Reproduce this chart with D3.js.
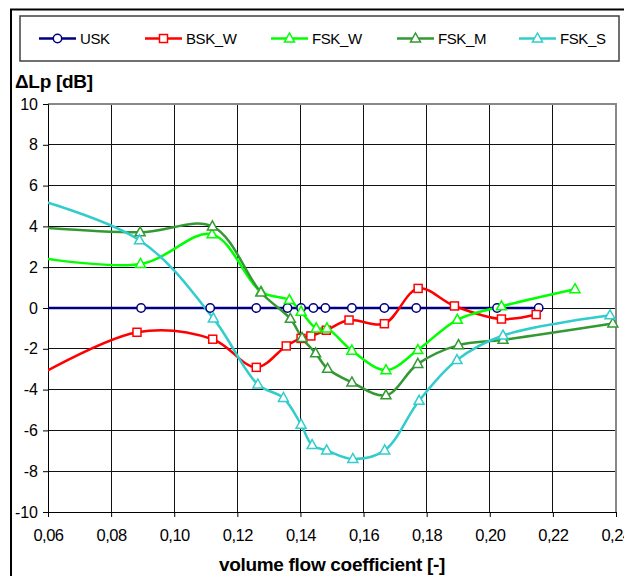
<!DOCTYPE html>
<html lang="en">

<head>
  <meta charset="UTF-8">
  <title>Delta Lp vs volume flow coefficient</title>
  <script src="https://d3js.org/d3.v7.min.js"></script>
  <style>
    body {
      margin: 0;
      background-color: white;
      font-family: "Liberation Sans", Arial, sans-serif;
    }
  </style>
</head>

<body>
  <div id="chart"></div>

  <script>
    // series data (first point of each series lies left of the axis)
    const uskX = [0.045, 0.0895, 0.1114, 0.1260, 0.1359, 0.1402, 0.1441, 0.1479, 0.1563, 0.1666, 0.1767, 0.2023, 0.2155];
    const uskY = [0, 0, 0, 0, 0, 0, 0, 0, 0, 0, 0, 0, 0];

    const bskwX = [0.045, 0.0882, 0.1122, 0.1260, 0.1355, 0.1402, 0.1433, 0.1482, 0.1554, 0.1666, 0.1773, 0.1888, 0.2037, 0.2147];
    const bskwY = [-4.35, -1.19, -1.53, -2.91, -1.86, -1.49, -1.37, -1.09, -0.59, -0.77, 0.96, 0.10, -0.54, -0.32];

    const fskwX = [0.045, 0.0893, 0.1120, 0.1275, 0.1365, 0.1402, 0.1450, 0.1484, 0.1563, 0.1671, 0.1772, 0.1897, 0.2037, 0.2270];
    const fskwY = [2.75, 2.16, 3.61, 0.80, 0.39, -0.18, -1.00, -1.00, -2.09, -3.05, -2.06, -0.58, 0.08, 0.92];

    const fskmX = [0.045, 0.0892, 0.1121, 0.1275, 0.1368, 0.1405, 0.1448, 0.1486, 0.1563, 0.1671, 0.1772, 0.1901, 0.2042, 0.2390];
    const fskmY = [4.1, 3.71, 4.00, 0.76, -0.53, -1.47, -2.22, -2.98, -3.65, -4.28, -2.74, -1.82, -1.56, -0.76];

    const fsksX = [0.045, 0.0890, 0.1124, 0.1265, 0.1346, 0.1402, 0.1437, 0.1483, 0.1566, 0.1667, 0.1776, 0.1896, 0.2042, 0.2381];
    const fsksY = [5.85, 3.32, -0.51, -3.75, -4.41, -5.72, -6.72, -6.98, -7.40, -6.98, -4.55, -2.55, -1.35, -0.36];

    const seriesNames = ["USK", "BSK_W", "FSK_W", "FSK_M", "FSK_S"];
    const xTicks = [0.06, 0.08, 0.10, 0.12, 0.14, 0.16, 0.18, 0.20, 0.22, 0.24];
    const yTicks = [-10, -8, -6, -4, -2, 0, 2, 4, 6, 8, 10];

    const series = [
      { name: seriesNames[0], xs: uskX, ys: uskY, color: "#000080", marker: "circle" },
      { name: seriesNames[1], xs: bskwX, ys: bskwY, color: "#ff0000", marker: "square" },
      { name: seriesNames[2], xs: fskwX, ys: fskwY, color: "#00ff00", marker: "triangle" },
      { name: seriesNames[3], xs: fskmX, ys: fskmY, color: "#339933", marker: "triangle" },
      { name: seriesNames[4], xs: fsksX, ys: fsksY, color: "#33cccc", marker: "triangle" }
    ];

    let width = 624;
    let height = 576;
    let plot = { left: 48, right: 616, top: 104, bottom: 512 };

    let svg = d3.select("#chart")
      .append("svg")
      .attr("width", width)
      .attr("height", height)
      .style("display", "block");

    const xScale = d3.scaleLinear().domain([0.06, 0.24]).range([plot.left, plot.right]);
    const yScale = d3.scaleLinear().domain([-10, 10]).range([plot.bottom, plot.top]);

    // outer frame
    svg.append("path")
      .attr("d", "M11," + (height + 5) + " L11,9.5 L" + (width + 5) + ",9.5")
      .attr("fill", "none")
      .attr("stroke", "black")
      .attr("stroke-width", 2);

    // legend
    svg.append("rect")
      .attr("x", 20).attr("y", 16)
      .attr("width", 599).attr("height", 45)
      .attr("fill", "white")
      .attr("stroke", "#404040")
      .attr("stroke-width", 1.5);

    const legendX = [39, 145, 271, 397, 519];

    // gridlines
    svg.append("g")
      .selectAll("line")
      .data(yTicks)
      .join("line")
      .attr("x1", plot.left).attr("x2", plot.right)
      .attr("y1", d => yScale(d)).attr("y2", d => yScale(d))
      .attr("stroke", "#111")
      .attr("stroke-width", 1)
      .attr("shape-rendering", "crispEdges");

    svg.append("g")
      .selectAll("line")
      .data(xTicks)
      .join("line")
      .attr("x1", d => xScale(d)).attr("x2", d => xScale(d))
      .attr("y1", plot.top).attr("y2", plot.bottom)
      .attr("stroke", "#111")
      .attr("stroke-width", 1)
      .attr("shape-rendering", "crispEdges");

    // plot area border (top and right in grey)
    svg.append("path")
      .attr("d", "M" + plot.left + "," + plot.top + " L" + plot.right + "," + plot.top + " L" + plot.right + "," + plot.bottom)
      .attr("fill", "none")
      .attr("stroke", "#888")
      .attr("stroke-width", 2);

    // axes
    let yAxis = d3.axisLeft(yScale)
      .tickValues(yTicks)
      .tickSize(5)
      .tickFormat(d => d);
    let yg = svg.append("g")
      .attr("transform", "translate(" + plot.left + ",0)")
      .call(yAxis);
    yg.select(".domain").attr("stroke", "black");
    yg.selectAll("text")
      .attr("x", -10)
      .style("font-family", "'Liberation Sans', Arial, sans-serif")
      .style("font-size", "16px")
      .attr("fill", "black");

    let xAxis = d3.axisBottom(xScale)
      .tickValues(xTicks)
      .tickSize(5)
      .tickSizeOuter(0)
      .tickFormat(d => d3.format(".2f")(d).replace(".", ","));
    let xg = svg.append("g")
      .attr("transform", "translate(0," + plot.bottom + ")")
      .call(xAxis);
    xg.select(".domain").attr("stroke", "black");
    xg.selectAll("text")
      .attr("y", 17)
      .style("font-family", "'Liberation Sans', Arial, sans-serif")
      .style("font-size", "16.5px")
      .style("letter-spacing", "-0.5px")
      .attr("fill", "black");

    // axis titles
    svg.append("text")
      .attr("x", 15)
      .attr("y", 88)
      .style("font-weight", "bold")
      .style("font-size", "19px")
      .style("letter-spacing", "-0.3px")
      .text("\u0394Lp [dB]");

    svg.append("text")
      .attr("x", (plot.left + plot.right) / 2)
      .attr("y", 571)
      .style("text-anchor", "middle")
      .style("font-weight", "bold")
      .style("font-size", "19px")
      .style("letter-spacing", "-0.3px")
      .text("volume flow coefficient [-]");

    // clip for the lines
    svg.append("defs")
      .append("clipPath")
      .attr("id", "clip")
      .append("rect")
      .attr("x", plot.left)
      .attr("y", plot.top)
      .attr("width", plot.right - plot.left)
      .attr("height", plot.bottom - plot.top);

    function drawMarker(g, type, x, y, color) {
      if (type == "circle") {
        g.append("circle").attr("cx", x).attr("cy", y).attr("r", 4.2)
          .attr("fill", "white").attr("stroke", color).attr("stroke-width", 1.5);
      } else if (type == "square") {
        g.append("rect").attr("x", x - 4).attr("y", y - 4).attr("width", 8).attr("height", 8)
          .attr("fill", "white").attr("stroke", color).attr("stroke-width", 1.5);
      } else {
        g.append("path")
          .attr("d", "M" + x + "," + (y - 5.5) + " L" + (x + 5) + "," + (y + 3.5) + " L" + (x - 5) + "," + (y + 3.5) + " Z")
          .attr("fill", "white").attr("stroke", color).attr("stroke-width", 1.5);
      }
    }

    let line = d3.line()
      .x(d => xScale(d[0]))
      .y(d => yScale(d[1]))
      .curve(d3.curveCatmullRom.alpha(0.5));

    let lines = svg.append("g").attr("clip-path", "url(#clip)");
    let markers = svg.append("g");

    series.forEach(s => {
      let pts = s.xs.map((x, i) => [x, s.ys[i]]);
      lines.append("path")
        .attr("d", line(pts))
        .attr("fill", "none")
        .attr("stroke", s.color)
        .attr("stroke-width", 2.5);
    });

    series.forEach(s => {
      s.xs.forEach((x, i) => {
        if (x < 0.06) return;
        drawMarker(markers, s.marker, xScale(x), yScale(s.ys[i]), s.color);
      });
    });

    // legend entries
    series.forEach((s, i) => {
      let lx = legendX[i];
      svg.append("line")
        .attr("x1", lx).attr("x2", lx + 37)
        .attr("y1", 38.5).attr("y2", 38.5)
        .attr("stroke", s.color)
        .attr("stroke-width", 2.5);
      drawMarker(svg, s.marker, lx + 18.5, 38.5, s.color);
      svg.append("text")
        .attr("x", lx + 41)
        .attr("y", 44)
        .style("font-size", "15px")
        .style("letter-spacing", "-0.4px")
        .text(s.name);
    });
  </script>
</body>

</html>
